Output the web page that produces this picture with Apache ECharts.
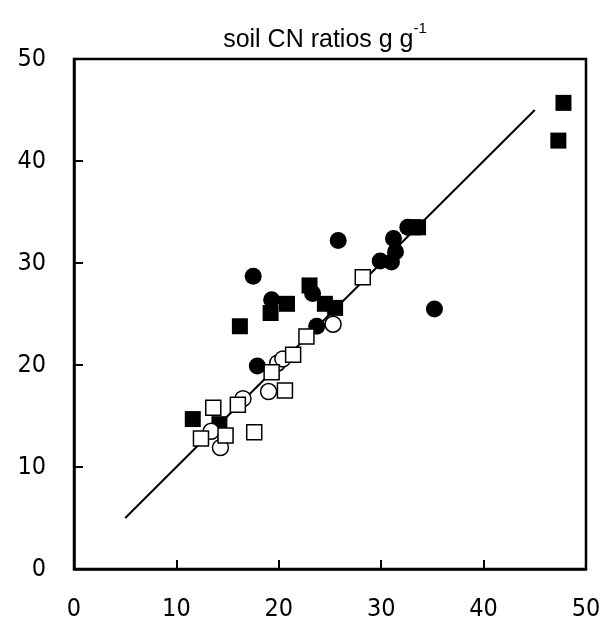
<!DOCTYPE html>
<html><head><meta charset="utf-8">
<script src="https://cdn.jsdelivr.net/npm/echarts@6/dist/echarts.min.js"></script>
<style>html,body{margin:0;padding:0;background:#fff}#c{width:608px;height:630px}</style>
</head><body><div id="c"></div>
<script>
const titleMain = 'soil CN ratios g g';
const titleSup = '-1';
const xTicks = [0, 10, 20, 30, 40, 50];
const yTicks = [0, 10, 20, 30, 40, 50];
const oneToOne = [[5, 5], [45, 45]];
const filledCircles = [[17.5,28.7],[19.3,26.4],[23.3,27.0],[23.7,23.8],[17.9,19.9],[25.8,32.2],[29.9,30.2],[31.0,30.1],[31.4,31.1],[31.2,32.4],[32.6,33.5],[35.2,25.5]];
const filledSquares = [[47.8,45.7],[47.3,42.0],[11.6,14.7],[14.2,14.2],[16.2,23.8],[19.2,25.1],[20.8,26.0],[23.0,27.8],[24.5,26.0],[25.5,25.6],[33.1,33.5],[33.6,33.5]];
const openCircles = [[13.4,13.5],[14.3,11.9],[16.5,16.7],[19.0,17.4],[19.9,20.2],[20.4,20.6],[25.3,24.0]];
const openSquares = [[13.6,15.8],[12.4,12.8],[14.8,13.1],[16.0,16.1],[17.6,13.4],[20.6,17.5],[19.3,19.3],[21.4,21.0],[22.7,22.8],[28.2,28.6]];

const chart = echarts.init(document.getElementById('c'), null, {renderer: 'canvas'});
const labelStyle = {color: '#000', fontFamily: 'DejaVu Sans Condensed, DejaVu Sans', fontSize: 25,
  formatter: function (v) { return String(v); }};
const axisCommon = {
  min: 0, max: 50, interval: 10,
  axisLine: {show: true, onZero: false, lineStyle: {color: '#000', width: 2.5}},
  axisTick: {show: true, inside: true, length: 9, lineStyle: {color: '#000', width: 2}},
  splitLine: {show: false}
};
chart.setOption({
  animation: false,
  backgroundColor: '#fff',
  title: {
    text: '{a|' + titleMain + '}{s|' + titleSup + '}',
    left: 320, top: 16, textAlign: 'center',
    textStyle: {
      fontWeight: 'normal',
      rich: {
        a: {fontFamily: 'Liberation Sans', fontWeight: 'normal', fontSize: 25, color: '#000', lineHeight: 32, verticalAlign: 'bottom'},
        s: {fontFamily: 'Liberation Sans', fontWeight: 'normal', fontSize: 15, color: '#000', lineHeight: 32, verticalAlign: 'top', padding: [0,0,10,0]}
      }
    }
  },
  grid: {left: 74, right: 22, top: 59, bottom: 61, show: true, borderColor: '#000', borderWidth: 2.5},
  xAxis: Object.assign({type: 'value', position: 'bottom'}, axisCommon, {axisLabel: Object.assign({}, labelStyle, {margin: 28})}),
  yAxis: Object.assign({type: 'value', position: 'left'}, axisCommon, {axisLabel: Object.assign({}, labelStyle, {margin: 28})}),
  series: [
    {type: 'line', data: oneToOne, symbol: 'none', lineStyle: {color: '#000', width: 2}, z: 1},
    {type: 'scatter', data: filledCircles, symbol: 'circle', symbolSize: 17, itemStyle: {color: '#000', opacity: 1}, z: 2},
    {type: 'scatter', data: filledSquares, symbol: 'rect', symbolSize: 16, itemStyle: {color: '#000', opacity: 1}, z: 3},
    {type: 'scatter', data: openCircles, symbol: 'circle', symbolSize: 16, itemStyle: {color: '#fff', borderColor: '#000', borderWidth: 1.5, opacity: 1}, z: 4},
    {type: 'scatter', data: openSquares, symbol: 'rect', symbolSize: 15, itemStyle: {color: '#fff', borderColor: '#000', borderWidth: 1.5, opacity: 1}, z: 5}
  ]
});
</script></body></html>
